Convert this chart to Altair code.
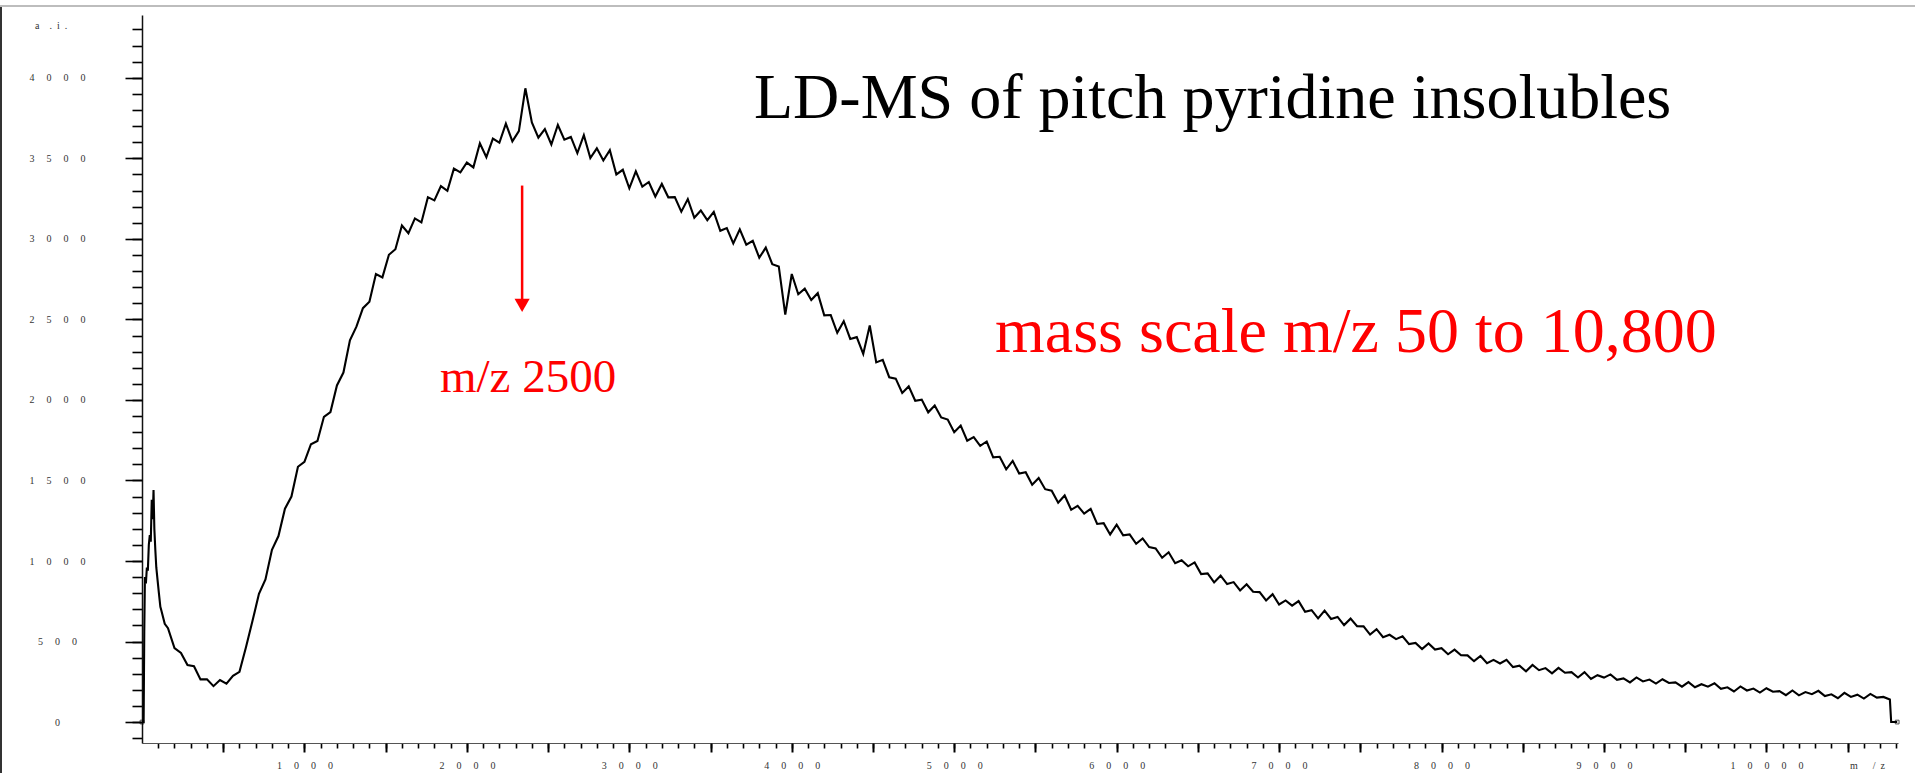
import altair as alt
import pandas as pd

# ---------------- data ----------------
MZ = [
    0, 10, 14, 18, 24, 30, 36, 42, 48, 54, 60, 66, 71, 76, 82, 88, 96, 104, 113, 120, 140,
    160, 200, 240, 280, 320, 360, 400, 440, 480, 520,
    560, 600, 640, 680, 720, 760, 800, 840, 880, 920,
    960, 1000, 1040, 1080, 1120, 1160, 1200, 1240, 1280, 1320,
    1360, 1400, 1440, 1480, 1520, 1560, 1600, 1640, 1680, 1720,
    1760, 1800, 1840, 1880, 1920, 1960, 2000, 2040, 2080, 2120,
    2160, 2200, 2240, 2280, 2320, 2360, 2400, 2440, 2480, 2520,
    2560, 2600, 2640, 2680, 2720, 2760, 2800, 2840, 2880, 2920,
    2960, 3000, 3040, 3080, 3120, 3160, 3200, 3240, 3280, 3320,
    3360, 3400, 3440, 3480, 3520, 3560, 3600, 3640, 3680, 3720,
    3760, 3800, 3840, 3880, 3920, 3960, 4000, 4040, 4080, 4120,
    4160, 4200, 4240, 4280, 4320, 4360, 4400, 4440, 4480, 4520,
    4560, 4600, 4640, 4680, 4720, 4760, 4800, 4840, 4880, 4920,
    4960, 5000, 5040, 5080, 5120, 5160, 5200, 5240, 5280, 5320,
    5360, 5400, 5440, 5480, 5520, 5560, 5600, 5640, 5680, 5720,
    5760, 5800, 5840, 5880, 5920, 5960, 6000, 6040, 6080, 6120,
    6160, 6200, 6240, 6280, 6320, 6360, 6400, 6440, 6480, 6520,
    6560, 6600, 6640, 6680, 6720, 6760, 6800, 6840, 6880, 6920,
    6960, 7000, 7040, 7080, 7120, 7160, 7200, 7240, 7280, 7320,
    7360, 7400, 7440, 7480, 7520, 7560, 7600, 7640, 7680, 7720,
    7760, 7800, 7840, 7880, 7920, 7960, 8000, 8040, 8080, 8120,
    8160, 8200, 8240, 8280, 8320, 8360, 8400, 8440, 8480, 8520,
    8560, 8600, 8640, 8680, 8720, 8760, 8800, 8840, 8880, 8920,
    8960, 9000, 9040, 9080, 9120, 9160, 9200, 9240, 9280, 9320,
    9360, 9400, 9440, 9480, 9520, 9560, 9600, 9640, 9680, 9720,
    9760, 9800, 9840, 9880, 9920, 9960, 10000, 10040, 10080, 10120,
    10160, 10200, 10240, 10280, 10320, 10360, 10400, 10440, 10480, 10520,
    10560, 10600, 10640, 10680, 10720, 10760,
    10768, 10805,
]

INTENSITY = [
    0, 0, 560, 900, 860, 960, 940, 1100, 1160, 1120, 1380, 1260, 1440, 1200, 1070, 960, 880, 800, 715, 690, 610,
    583, 459, 429, 354, 347, 265, 265, 223, 261, 239,
    287, 312, 464, 627, 796, 886, 1070, 1155, 1325, 1400,
    1585, 1615, 1725, 1745, 1895, 1925, 2090, 2170, 2370, 2455,
    2570, 2610, 2782, 2761, 2901, 2936, 3083, 3035, 3127, 3102,
    3259, 3239, 3328, 3298, 3436, 3413, 3474, 3444, 3594, 3507,
    3622, 3597, 3716, 3605, 3669, 3935, 3723, 3628, 3681, 3586,
    3707, 3616, 3633, 3533, 3644, 3502, 3562, 3487, 3551, 3400,
    3429, 3314, 3419, 3324, 3353, 3263, 3341, 3258, 3259, 3169,
    3247, 3131, 3176, 3116, 3168, 3050, 3067, 2972, 3059, 2964,
    2988, 2883, 2946, 2843, 2829, 2530, 2782, 2656, 2691, 2621,
    2663, 2525, 2527, 2417, 2489, 2379, 2390, 2286, 2462, 2233,
    2249, 2141, 2132, 2043, 2084, 1995, 2002, 1923, 1965, 1891,
    1878, 1799, 1841, 1747, 1769, 1715, 1742, 1644, 1647, 1569,
    1621, 1543, 1551, 1473, 1515, 1446, 1436, 1362, 1407, 1318,
    1343, 1294, 1324, 1230, 1235, 1165, 1225, 1159, 1165, 1107,
    1140, 1086, 1078, 1020, 1054, 986, 1005, 967, 991, 919,
    923, 867, 909, 857, 869, 817, 856, 809, 807, 755,
    794, 730, 755, 723, 751, 685, 695, 644, 692, 640,
    653, 602, 642, 595, 594, 543, 577, 527, 542, 515,
    533, 484, 491, 453, 488, 450, 459, 421, 450, 415,
    414, 378, 410, 365, 386, 364, 387, 341, 350, 315,
    355, 322, 335, 302, 336, 306, 310, 277, 310, 268,
    291, 276, 296, 262, 271, 246, 277, 252, 264, 239,
    266, 243, 246, 220, 248, 216, 235, 220, 241, 206,
    216, 190, 221, 196, 208, 183, 210, 188, 192, 167,
    196, 166, 186, 173, 194, 161, 172, 148, 181, 156,
    170, 146, 175, 152, 156, 140,
    0, 0,
]

X_MINOR_TICKS = list(range(100, 10801, 100))
X_MAJOR_TICKS = list(range(500, 10501, 500))
Y_MINOR_TICKS = list(range(-100, 4301, 100))
Y_MAJOR_TICKS = list(range(0, 4001, 500))

TITLE = "LD-MS of pitch pyridine insolubles"
SCALE_NOTE = "mass scale m/z 50 to 10,800"
PEAK_NOTE = "m/z 2500"
ARROW_MZ = [2340]
ARROW_FROM = [3331]
ARROW_TO = [2587]
X_UNIT = "m\u2003\u2002/\u2002z"
Y_UNIT = "a\u2003.\u2002i\u2002."

# ---------------- chart ----------------
df = pd.DataFrame({"mz": MZ, "intensity": INTENSITY})
ends = df.iloc[[0, len(df) - 1]]

FONT = "Liberation Serif"
SP = "\u2003\u2009"

xs = alt.Scale(domain=[0, 10810], nice=False, zero=False)
ys = alt.Scale(domain=[-130, 4390], nice=False, zero=False)

line = alt.Chart(df).mark_line(color="black", strokeWidth=2.1, clip=False,
                               strokeJoin="miter").encode(
    x=alt.X("mz:Q", scale=xs, axis=alt.Axis(
        orient="bottom", values=X_MINOR_TICKS, tickSize=5, tickWidth=1.6,
        tickColor="black", labels=False, domainColor="#555", domainWidth=1,
        grid=False, title=None)),
    y=alt.Y("intensity:Q", scale=ys, axis=alt.Axis(
        orient="left", values=Y_MINOR_TICKS, tickSize=10, tickWidth=1.6,
        tickColor="black", labels=False, domainColor="#111", domainWidth=1.5,
        grid=False, title=None)),
)

major = alt.Chart(df).mark_line(opacity=0).encode(
    x=alt.X("mz:Q", scale=xs, axis=alt.Axis(
        orient="bottom", values=X_MAJOR_TICKS, tickSize=9, tickWidth=2,
        tickColor="black", domain=False, grid=False, title=None,
        labelExpr="datum.value % 1000 === 0 ? join(split(toString(datum.value), ''), '" + SP + "') : ''",
        labelFont=FONT, labelFontSize=10, labelColor="#333", labelPadding=8,
        labelBaseline="top", labelFlush=False, labelOverlap=False)),
    y=alt.Y("intensity:Q", scale=ys, axis=alt.Axis(
        orient="left", values=Y_MAJOR_TICKS, tickSize=17, tickWidth=1.6,
        tickColor="black", domain=False, grid=False, title=None,
        labelExpr="join(split(toString(datum.value), ''), '" + SP + "')",
        labelFont=FONT, labelFontSize=10, labelColor="#333", labelPadding=68,
        labelAlign="center", labelBaseline="middle", labelOverlap=False, labelFlush=False)),
)

markers = alt.Chart(ends).mark_point(shape="square", size=14, filled=False,
                                      color="black", strokeWidth=1, clip=False).encode(
    x=alt.X("mz:Q", scale=xs, axis=None),
    y=alt.Y("intensity:Q", scale=ys, axis=None),
)

arrow_df = pd.DataFrame({"mz": ARROW_MZ, "y1": ARROW_FROM, "y2": ARROW_TO})
arrow_shaft = alt.Chart(arrow_df).mark_rule(color="#ff0000", strokeWidth=2.5).encode(
    x=alt.X("mz:Q", scale=xs, axis=None),
    y=alt.Y("y1:Q", scale=ys, axis=None),
    y2="y2:Q",
)
arrow_head = alt.Chart(arrow_df).mark_point(shape="triangle-down", size=230, filled=True,
                                            color="#ff0000", opacity=1).encode(
    x=alt.X("mz:Q", scale=xs, axis=None),
    y=alt.Y("y2:Q", scale=ys, axis=None),
)


def label(text, x, y, size, color="black", align="left"):
    return alt.Chart(pd.DataFrame({"t": [text]})).mark_text(
        font=FONT, fontSize=size, color=color, align=align, baseline="alphabetic"
    ).encode(text="t:N", x=alt.value(x), y=alt.value(y))


title = label(TITLE, 612, 103, 64)
note1 = label(SCALE_NOTE, 853, 337, 64, color="#ff0000")
note2 = label(PEAK_NOTE, 298, 377, 47, color="#ff0000")
xunit = label(X_UNIT, 1708, 754, 10, color="#333")
yunit = label(Y_UNIT, -107, 14, 10, color="#333")

frame_top = alt.Chart(pd.DataFrame({"k": [0]})).mark_rule(color="#bdbdbd", strokeWidth=2).encode(
    x=alt.value(-142), x2=alt.value(1773), y=alt.value(-9))
frame_left = alt.Chart(pd.DataFrame({"k": [0]})).mark_rule(color="#333", strokeWidth=2).encode(
    x=alt.value(-141), y=alt.value(-8), y2=alt.value(758))

chart = alt.layer(
    frame_top, frame_left, line, major, markers, arrow_shaft, arrow_head,
    title, note1, note2, xunit, yunit,
).resolve_axis(x="independent", y="independent").properties(
    width=1756, height=728,
    padding={"left": 142, "top": 15, "right": 17, "bottom": 30},
    autosize=alt.AutoSizeParams(type="none"),
    background="white",
).configure_view(stroke=None)

chart.save("out.html", embed_options={"renderer": "svg", "actions": False})
